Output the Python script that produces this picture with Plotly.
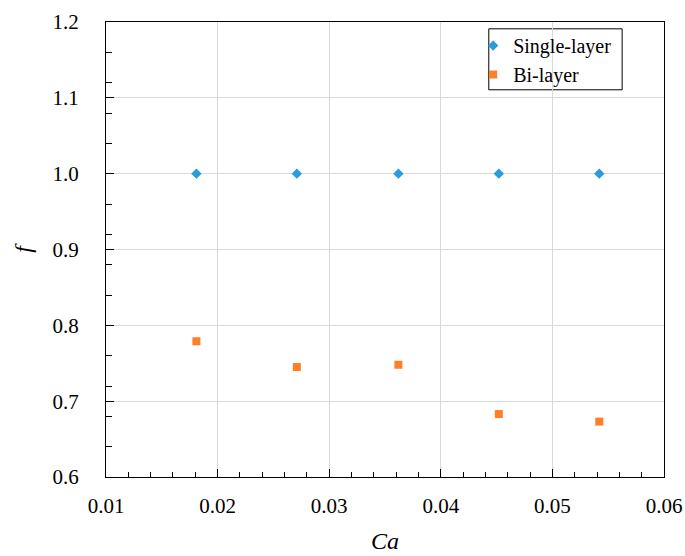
import plotly.graph_objects as go

ca = [0.0181, 0.0271, 0.0362, 0.0452, 0.0542]
f_single = [1.0, 1.0, 1.0, 1.0, 1.0]
f_bi = [0.779, 0.745, 0.748, 0.683, 0.673]
x_ticks = [0.01, 0.02, 0.03, 0.04, 0.05, 0.06]
x_tick_text = ["0.01", "0.02", "0.03", "0.04", "0.05", "0.06"]
y_ticks = [0.6, 0.7, 0.8, 0.9, 1.0, 1.1, 1.2]
y_tick_text = ["0.6", "0.7", "0.8", "0.9", "1.0", "1.1", "1.2"]

FONT = "Liberation Serif, Times New Roman, serif"

fig = go.Figure()
fig.add_trace(go.Scatter(x=ca, y=f_single, mode="markers", name="Single-layer",
                         marker=dict(symbol="diamond", size=8, color="#2A9BDB")))
fig.add_trace(go.Scatter(x=ca, y=f_bi, mode="markers", name="Bi-layer",
                         marker=dict(symbol="square", size=8, color="#FF7F27")))

axis_common = dict(
    showline=True, linecolor="black", linewidth=1.3, mirror=True,
    showgrid=True, gridcolor="#D9D9D9", gridwidth=1,
    zeroline=False, ticks="inside", ticklen=8, tickcolor="black",
    tickfont=dict(family=FONT, size=21, color="black"),
    automargin=False,
)

fig.update_xaxes(range=[0.01, 0.06], tickvals=x_ticks, ticktext=x_tick_text,
                 minor=dict(dtick=0.002, tick0=0.01, ticks="inside", ticklen=5, tickcolor="black", showgrid=False),
                 ticklabelstandoff=10,
                 title=dict(text="<i>Ca</i>", font=dict(family=FONT, size=24, color="black"), standoff=14),
                 **axis_common)
fig.update_yaxes(range=[0.6, 1.2], tickvals=y_ticks, ticktext=y_tick_text,
                 minor=dict(dtick=0.04, tick0=0.6, ticks="inside", ticklen=6, tickcolor="black", showgrid=False),
                 ticklabelstandoff=22,
                 title=dict(text="<i>f</i>", font=dict(family=FONT, size=24, color="black"), standoff=14),
                 **axis_common)

# legend frame drawn as a shape so it can be tighter than plotly's default legend box
fig.add_shape(type="rect", xref="paper", yref="paper",
              x0=0.686, x1=0.925, y0=0.851, y1=0.985,
              line=dict(color="black", width=1), fillcolor="white", layer="below")

fig.update_layout(
    width=685, height=556,
    margin=dict(l=106, r=21, t=22, b=79),
    plot_bgcolor="white", paper_bgcolor="white",
    font=dict(family=FONT, color="black"),
    legend=dict(x=0.658, y=0.991, xanchor="left", yanchor="top",
                borderwidth=0, bgcolor="rgba(0,0,0,0)",
                font=dict(family=FONT, size=20, color="black"),
                itemwidth=30, tracegroupgap=0),
    showlegend=True,
)

fig.write_html("out.html")
